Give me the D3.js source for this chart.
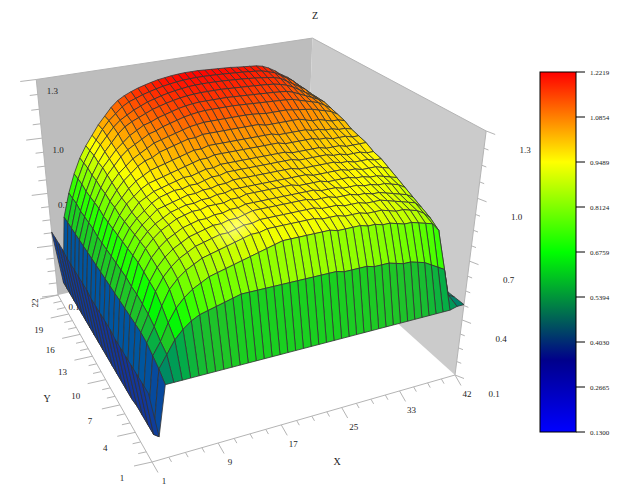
<!DOCTYPE html>
<html><head><meta charset="utf-8"><script src="https://cdnjs.cloudflare.com/ajax/libs/d3/7.8.5/d3.min.js"></script>
<style>html,body{margin:0;padding:0;background:#fff}svg{display:block}text{font-family:"Liberation Serif",serif;fill:#222}</style></head><body>
<div id="c"></div>
<script>
const xLabels = ["1","9","17","25","33","42"];
const yLabels = ["1","4","7","10","13","16","19","22"];
const zLabels = ["0.1","0.4","0.7","1.0","1.3"];
const legendLabels = ["0.1300","0.2665","0.4030","0.5394","0.6759","0.8124","0.9489","1.0854","1.2219"];
const colorStops = [0.13,0.3484,0.6759,0.9489,1.2219];
const colorRange = ["#0000ff","#00008b","#00ff00","#ffff00","#ff0000"];
const surfaceStops = [0.13,0.31,0.36,0.45,0.55,0.6,0.6759,0.9489,1.2219];
const surfaceRange = ["#0000ff","#14329a","#0055a0","#006e78","#00a84c","#20c428","#00ff00","#ffff00","#ff0000"];
const zRows = [
[.45,.22,.47, .47,.47,.47,.47,.47,.47,.47,.47,.47, .47,.47,.47,.47,.47,.47,.47,.47,.47,.47, .47,.47,.47,.47,.47,.47,.47,.47,.47,.47,.47, .47,.47,.47,.47,.47,.47,.47, .48,.48],
[.45,.18,.50, .56,.62,.66,.69,.71,.72,.73,.74,.75, .76,.76,.76,.76,.76,.76,.76,.76,.76,.76, .76,.76,.76,.75,.75,.75,.75,.74,.74,.74,.73, .72,.72,.71,.70,.68,.66,.64, .50,.48],
[.45,.18,.52, .58,.66,.72,.76,.79,.81,.83,.84,.85, .86,.87,.88,.89,.90,.91,.92,.92,.92,.92, .92,.92,.92,.91,.91,.91,.91,.90,.90,.89,.89, .88,.87,.87,.86,.85,.84,.80, .50,.48],
[.45,.18,.54, .61,.70,.77,.81,.84,.86,.88,.89,.90, .91,.92,.93,.94,.94,.95,.95,.95,.95,.95, .95,.95,.94,.94,.94,.93,.93,.93,.92,.92,.92, .91,.90,.90,.89,.88,.86,.83, .50,.48],
[.45,.18,.55, .63,.73,.79,.83,.86,.88,.90,.91,.92, .93,.93,.94,.95,.95,.96,.96,.96,.96,.96, .96,.96,.96,.95,.95,.95,.94,.94,.94,.93,.93, .93,.92,.91,.90,.89,.88,.85, .50,.48],
[.45,.17,.55, .64,.74,.80,.84,.87,.89,.91,.92,.93, .94,.94,.95,.95,.96,.97,.97,.97,.97,.97, .97,.97,.97,.96,.96,.96,.95,.95,.95,.94,.94, .93,.93,.92,.91,.90,.89,.87, .50,.48],
[.45,.17,.55, .65,.75,.81,.85,.88,.90,.92,.93,.94, .94,.95,.95,.96,.96,.97,.97,.97,.97,.97, .97,.97,.97,.97,.97,.96,.96,.96,.95,.95,.95, .94,.94,.93,.93,.92,.91,.89, .50,.48],
[.46,.17,.55, .65,.76,.82,.86,.89,.91,.93,.94,.95, .95,.96,.96,.96,.97,.97,.98,.98,.98,.98, .98,.98,.98,.97,.97,.97,.97,.96,.96,.96,.96, .95,.95,.94,.94,.93,.92,.91, .50,.48],
[.46,.17,.55, .66,.76,.82,.86,.89,.91,.93,.94,.95, .95,.96,.96,.97,.97,.98,.98,.98,.98,.98, .98,.98,.98,.98,.98,.98,.97,.97,.97,.97,.97, .96,.96,.95,.95,.95,.94,.93, .50,.48],
[.46,.17,.55, .66,.76,.82,.86,.89,.92,.93,.94,.95, .96,.96,.97,.97,.98,.98,.99,.99,.99,.99, .99,.99,.99,.99,.99,.98,.98,.98,.98,.98,.98, .97,.97,.96,.96,.96,.95,.95, .50,.48],
[.46,.17,.55, .66,.76,.82,.86,.89,.92,.94,.95,.96, .96,.97,.97,.98,.99,.99,1,1,1,1, 1,1,1,1,1,1,.99,.99,.99,.99,.99, .98,.98,.97,.97,.97,.96,.96, .50,.48],
[.46,.17,.55, .66,.76,.82,.86,.90,.92,.94,.95,.96, .97,.98,.98,.99,1,1,1.01,1.01,1.01,1.01, 1.01,1.01,1.01,1.01,1.01,1.01,1,1,1,1,1, .99,.99,.99,.98,.98,.98,.98, .50,.48],
[.47,.17,.55, .66,.76,.82,.87,.90,.93,.95,.96,.97, .98,.99,1,1.01,1.02,1.02,1.03,1.03,1.03,1.03, 1.03,1.03,1.03,1.03,1.03,1.03,1.02,1.02,1.02,1.02,1.02, 1.01,1.01,1,1,1,.99,.99, .50,.48],
[.47,.17,.55, .66,.76,.83,.87,.91,.94,.96,.98,.99, 1,1.01,1.02,1.03,1.04,1.04,1.05,1.05,1.05,1.05, 1.05,1.05,1.05,1.05,1.05,1.05,1.04,1.04,1.04,1.04,1.04, 1.03,1.03,1.02,1.02,1.01,1.01,1, .50,.48],
[.47,.17,.55, .66,.76,.83,.88,.92,.95,.98,1,1.01, 1.03,1.04,1.05,1.06,1.07,1.07,1.08,1.08,1.08,1.08, 1.08,1.08,1.08,1.08,1.08,1.07,1.07,1.07,1.07,1.07,1.07, 1.06,1.05,1.05,1.04,1.03,1.03,1.02, .50,.48],
[.47,.17,.55, .67,.77,.84,.89,.93,.96,.99,1.01,1.03, 1.05,1.06,1.07,1.08,1.09,1.10,1.105,1.11,1.11,1.11, 1.11,1.11,1.11,1.11,1.108,1.105,1.10,1.10,1.10,1.10,1.095, 1.09,1.085,1.08,1.07,1.06,1.05,1.03, .50,.48],
[.47,.17,.55, .67,.77,.84,.90,.94,.98,1.01,1.03,1.05, 1.07,1.08,1.095,1.105,1.115,1.125,1.132,1.137,1.14,1.14, 1.14,1.14,1.14,1.138,1.136,1.134,1.132,1.13,1.128,1.126,1.124, 1.12,1.11,1.10,1.09,1.08,1.06,1.04, .50,.48],
[.47,.17,.55, .67,.77,.85,.91,.95,.99,1.02,1.05,1.07, 1.09,1.10,1.115,1.125,1.135,1.145,1.152,1.157,1.16,1.16, 1.16,1.16,1.16,1.158,1.156,1.154,1.152,1.15,1.148,1.146,1.143, 1.14,1.13,1.115,1.10,1.085,1.07,1.05, .50,.48],
[.48,.17,.55, .67,.77,.85,.91,.96,1,1.04,1.07,1.09, 1.105,1.12,1.135,1.145,1.155,1.163,1.17,1.175,1.178,1.18, 1.18,1.18,1.18,1.178,1.176,1.174,1.172,1.17,1.168,1.165,1.162, 1.155,1.145,1.13,1.11,1.09,1.07,1.05, .50,.48],
[.48,.17,.55, .68,.78,.86,.92,.97,1.01,1.05,1.08,1.10, 1.12,1.135,1.15,1.16,1.17,1.178,1.185,1.19,1.195,1.197, 1.198,1.198,1.197,1.196,1.194,1.192,1.19,1.187,1.184,1.18,1.175, 1.17,1.16,1.14,1.12,1.10,1.08,1.05, .50,.48],
[.48,.17,.55, .68,.78,.86,.92,.97,1.02,1.06,1.09,1.12, 1.14,1.152,1.165,1.175,1.184,1.192,1.198,1.203,1.207,1.209, 1.21,1.21,1.209,1.208,1.206,1.204,1.202,1.2,1.197,1.194,1.19, 1.18,1.17,1.15,1.13,1.11,1.08,1.05, .50,.48],
[.48,.17,.55, .68,.78,.86,.92,.97,1.02,1.06,1.10,1.13, 1.15,1.165,1.178,1.188,1.197,1.205,1.21,1.215,1.218,1.22, 1.22,1.22,1.218,1.216,1.214,1.212,1.21,1.206,1.203,1.2,1.197, 1.19,1.175,1.155,1.13,1.11,1.08,1.05, .52,.48]
];
const W=629,H=497;
const svg=d3.select("#c").append("svg").attr("width",W).attr("height",H);
const sx=d3.scaleLinear().domain([1,42]).range([0,1]);
const sy=d3.scaleLinear().domain([1,22]).range([0,1]);
const sz=d3.scaleLinear().domain([0.1,1.3]).range([0,1]);
const color=d3.scaleLinear().domain(surfaceStops).range(surfaceRange).interpolate(d3.interpolateRgb);
// frame anchors of the box on screen
const A=[152,462],B=[455,375],C=[305,240],D=[58,295];
const tops=[[1,0,487,130],[1,1,312,42],[0,1,36,76]];
const det=(p,q)=>p[0]*q[1]-p[1]*q[0];
const dx1=[B[0]-C[0],B[1]-C[1]],dx2=[D[0]-C[0],D[1]-C[1]],s=[A[0]-B[0]+C[0]-D[0],A[1]-B[1]+C[1]-D[1]];
const g=det(s,dx2)/det(dx1,dx2),h=det(dx1,s)/det(dx1,dx2);
const a=B[0]-A[0]+g*B[0],b=D[0]-A[0]+h*D[0],c0=A[0],d=B[1]-A[1]+g*B[1],e=D[1]-A[1]+h*D[1],f0=A[1];
// least squares for the vertical column of the projective map
let n=tops.length,msx=0,msy=0,ss=0,bx=0,by=0,bs=0;
tops.forEach(([u,v,X,Y])=>{const W0=g*u+h*v+1,rx=X*W0-(a*u+b*v+c0),ry=Y*W0-(d*u+e*v+f0);
 msx+=X;msy+=Y;ss+=X*X+Y*Y;bx+=rx;by+=ry;bs+=X*rx+Y*ry;});
const r=(-bs+(msx*bx+msy*by)/n)/(ss-(msx*msx+msy*msy)/n);
const p=(bx+r*msx)/n,q=(by+r*msy)/n;
function proj(u,v,w){const W_=g*u+h*v+1+r*w;return [(a*u+b*v+c0+p*w)/W_,(d*u+e*v+f0+q*w)/W_];}
const P=(x,y,z)=>proj(sx(x),sy(y),sz(z));
const line=pts=>"M"+pts.map(q=>q[0].toFixed(2)+","+q[1].toFixed(2)).join("L")+"Z";
// walls
const wall=svg.append("g");
wall.append("path").attr("d",line([P(1,22,.1),P(42,22,.1),P(42,22,1.3),P(1,22,1.3)])).attr("fill","#bdbdbd");
wall.append("path").attr("d",line([P(42,22,.1),P(42,1,.1),P(42,1,1.3),P(42,22,1.3)])).attr("fill","#cbcbcb");
const gridc="#b4b4b4";
function seg(par,p0,p1,wd,col){par.append("line").attr("x1",p0[0]).attr("y1",p0[1]).attr("x2",p1[0]).attr("y2",p1[1]).attr("stroke",col||gridc).attr("stroke-width",wd||1);}
const ax=svg.append("g");
seg(ax,P(1,1,.1),P(42,1,.1));seg(ax,P(1,1,.1),P(1,22,.1));seg(ax,P(42,1,.1),P(42,1,1.3));seg(ax,P(1,22,.1),P(1,22,1.3));
seg(ax,P(1,22,1.3),P(42,22,1.3));seg(ax,P(42,22,1.3),P(42,1,1.3));
// x ticks
d3.range(21).forEach(k=>{const x=1+41*k/20,maj=k%4===0,o=P(x,1,.1),len=maj?1:.45;
 seg(ax,o,[o[0]+6*len,o[1]+10.5*len]);});
xLabels.forEach((t,i)=>{const k=i===5?20:i*4,x=1+41*k/20,o=P(x,1,.1);
 ax.append("text").attr("x",o[0]+12).attr("y",o[1]+22).attr("text-anchor","middle").attr("font-size",9).text(t);});
// y ticks
d3.range(22).forEach(k=>{const y=1+k,maj=k%3===0,o=P(1,y,.1),len=maj?1:.45;
 seg(ax,o,[o[0]-18*len,o[1]+4*len]);});
yLabels.forEach((t,i)=>{const y=1+3*i,o=P(1,y,.1);
 if(i===yLabels.length-1){ax.append("text").attr("transform",`translate(${o[0]-20},${o[1]+8}) rotate(-90)`).attr("text-anchor","middle").attr("font-size",9).text(t);return;}
 ax.append("text").attr("x",o[0]-30).attr("y",o[1]+19).attr("text-anchor","middle").attr("font-size",9).text(t);});
// z ticks
d3.range(17).forEach(k=>{const z=.1+1.2*k/16,maj=k%4===0,len=maj?1:.5;
 let o=P(42,1,z);seg(ax,o,[o[0]+9*len,o[1]+3.5*len]);
 o=P(1,22,z);seg(ax,o,[o[0]-16*len,o[1]+2*len]);});
zLabels.forEach((t,i)=>{const z=.1+.3*i;
 let o=P(42,1,z);ax.append("text").attr("x",o[0]+39).attr("y",o[1]+22).attr("text-anchor","middle").attr("font-size",9).text(t);
 o=P(1,22,z);ax.append("text").attr("x",o[0]+16).attr("y",o[1]+15).attr("text-anchor","middle").attr("font-size",9).text(t);});
// surface
const surf=svg.append("g");
const ny=zRows.length,nx=zRows[0].length;
for(let j=ny-2;j>=0;j--){for(let i=nx-2;i>=0;i--){
 const zs=[zRows[j][i],zRows[j][i+1],zRows[j+1][i+1],zRows[j+1][i]];
 const pts=[P(i+1,j+1,zs[0]),P(i+2,j+1,zs[1]),P(i+2,j+2,zs[2]),P(i+1,j+2,zs[3])];
 surf.append("path").attr("d",line(pts)).attr("fill",color(d3.mean(zs))).attr("stroke","#333").attr("stroke-width",.8).attr("stroke-linejoin","round");
}}
// specular highlight on the dome
const defs=svg.append("defs");
const hl=defs.append("radialGradient").attr("id","hl");
hl.append("stop").attr("offset",0).attr("stop-color","#fff").attr("stop-opacity",.42);
hl.append("stop").attr("offset",1).attr("stop-color","#fff").attr("stop-opacity",0);
const hp=P(15,5,.95);
svg.append("ellipse").attr("rx",30).attr("ry",18).attr("fill","url(#hl)").attr("transform",`translate(${hp[0]},${hp[1]}) rotate(-35)`);
// titles
[["Z",315,19],["Y",47,402],["X",337,465]].forEach(t=>svg.append("text").attr("x",t[1]).attr("y",t[2]).attr("text-anchor","middle").attr("font-size",10).text(t[0]));
// colour bar
const lx=540,lw=36,ly=72,lh=360;
const ls=d3.scaleLinear().domain([0.13,1.2219]).range([ly+lh,ly]);
const gr=defs.append("linearGradient").attr("id","cb").attr("x1",0).attr("y1",1).attr("x2",0).attr("y2",0);
colorStops.forEach((v,i)=>gr.append("stop").attr("offset",(v-0.13)/(1.2219-0.13)).attr("stop-color",colorRange[i]));
svg.append("rect").attr("x",lx).attr("y",ly).attr("width",lw).attr("height",lh).attr("fill","url(#cb)").attr("stroke","#000").attr("stroke-width",1);
legendLabels.forEach(t=>{const y=Math.round(ls(+t));
 seg(svg,[lx+lw,y],[lx+lw+9,y],1,"#000");
 svg.append("text").attr("x",lx+lw+14).attr("y",y+3).attr("font-size",7).attr("fill","#000").text(t);});
</script></body></html>
